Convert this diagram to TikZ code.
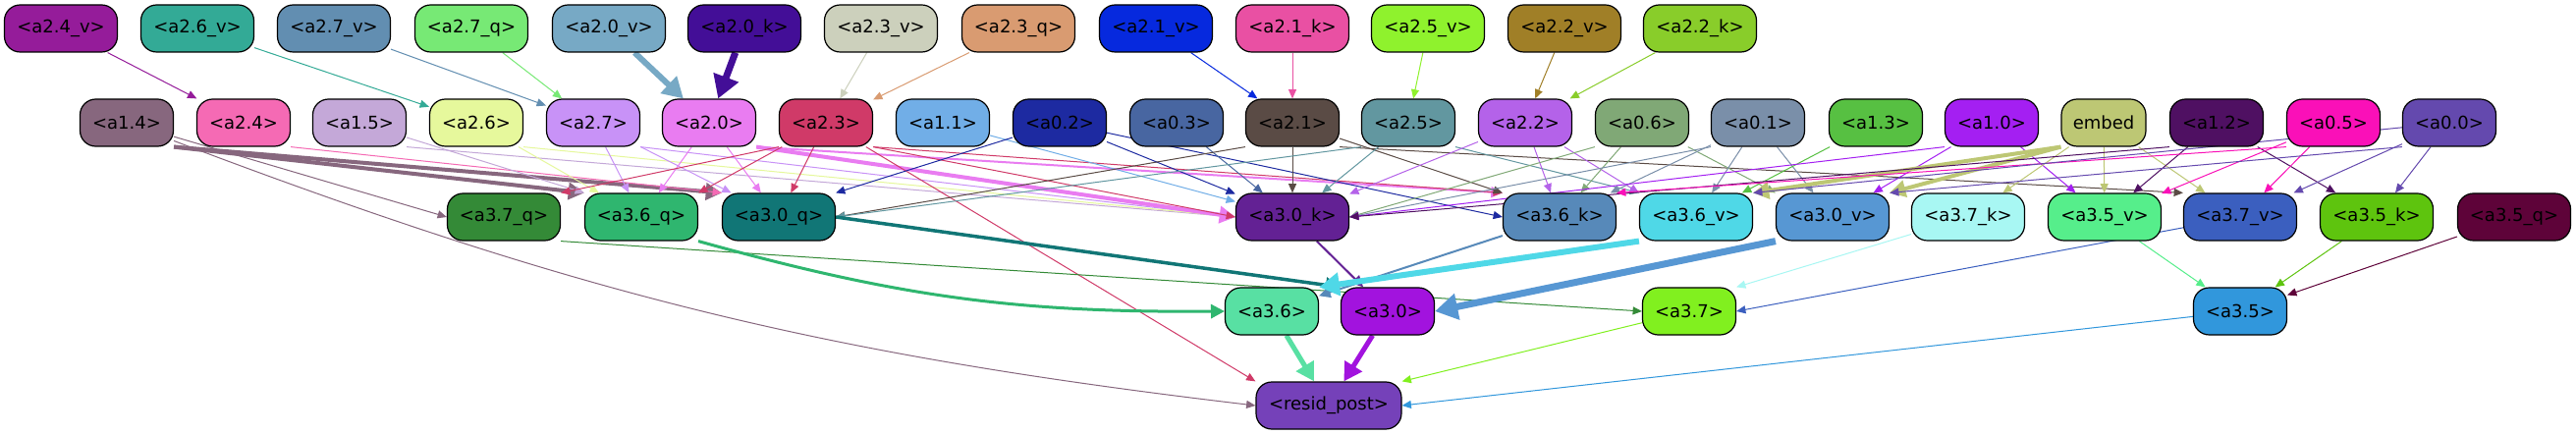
\documentclass[tikz,border=0pt]{standalone}
\usepackage{fontspec}
\setmainfont{DejaVu Sans}
\usetikzlibrary{arrows.meta,backgrounds}

\definecolor{c24v}{HTML}{951C9A}
\definecolor{c26v}{HTML}{33AA96}
\definecolor{c27v}{HTML}{628EB1}
\definecolor{c27q}{HTML}{77E975}
\definecolor{c20v}{HTML}{77A9C5}
\definecolor{c20k}{HTML}{430E97}
\definecolor{c23v}{HTML}{CCD0BC}
\definecolor{c23q}{HTML}{D99B71}
\definecolor{c21v}{HTML}{0629DE}
\definecolor{c21k}{HTML}{E950A3}
\definecolor{c25v}{HTML}{8FF22D}
\definecolor{c22v}{HTML}{A07F27}
\definecolor{c22k}{HTML}{89CD2A}
\definecolor{c14}{HTML}{87677E}
\definecolor{c24}{HTML}{F56AB4}
\definecolor{c15}{HTML}{C4A8D8}
\definecolor{c26}{HTML}{E6F89C}
\definecolor{c27}{HTML}{C892F7}
\definecolor{c20}{HTML}{E97CF1}
\definecolor{c23}{HTML}{D03A68}
\definecolor{c11}{HTML}{71AEE7}
\definecolor{c02}{HTML}{1D2AA1}
\definecolor{c03}{HTML}{4866A1}
\definecolor{c21}{HTML}{5A4B45}
\definecolor{c25}{HTML}{6297A0}
\definecolor{c22}{HTML}{B462E9}
\definecolor{c06}{HTML}{80A876}
\definecolor{c01}{HTML}{7A8FA9}
\definecolor{c13}{HTML}{57C042}
\definecolor{c10}{HTML}{A41FF2}
\definecolor{cembed}{HTML}{BDC774}
\definecolor{c12}{HTML}{4F1062}
\definecolor{c05}{HTML}{FA10B8}
\definecolor{c00}{HTML}{6449AE}
\definecolor{c37q}{HTML}{348A37}
\definecolor{c36q}{HTML}{2FB66F}
\definecolor{c30q}{HTML}{117676}
\definecolor{c30k}{HTML}{632194}
\definecolor{c36k}{HTML}{5789B9}
\definecolor{c36v}{HTML}{4FD8E7}
\definecolor{c30v}{HTML}{5797D3}
\definecolor{c37k}{HTML}{A8F7F3}
\definecolor{c35v}{HTML}{56EE8B}
\definecolor{c37v}{HTML}{3B5FBF}
\definecolor{c35k}{HTML}{5EC40E}
\definecolor{c35q}{HTML}{5E0339}
\definecolor{c36}{HTML}{58E0A3}
\definecolor{c30}{HTML}{A213DE}
\definecolor{c37}{HTML}{81F01F}
\definecolor{c35}{HTML}{3197DC}
\definecolor{cresid}{HTML}{7541B9}

\begin{document}
\begin{tikzpicture}[x=0.5pt,y=-0.5pt,
  box/.style={draw=black, line width=0.6pt, rounded corners=8pt, minimum width=47.5pt,
    minimum height=24pt, inner sep=0pt, font=\fontsize{9}{11}\selectfont},
  wbox/.style={box, minimum width=57.5pt},
  link/.style={line width=0.5pt, -{Triangle[length=3.5pt 2.3,width=2.5pt 3]}}]
  \useasboundingbox (0,0) rectangle (2623,443);

  \node[wbox, fill=c24v] (a24v) at (62,29) {<a2.4\_v>};
  \node[wbox, fill=c26v] (a26v) at (201,29) {<a2.6\_v>};
  \node[wbox, fill=c27v] (a27v) at (340,29) {<a2.7\_v>};
  \node[wbox, fill=c27q] (a27q) at (480,29) {<a2.7\_q>};
  \node[wbox, fill=c20v] (a20v) at (620,29) {<a2.0\_v>};
  \node[wbox, fill=c20k] (a20k) at (758,29) {<a2.0\_k>};
  \node[wbox, fill=c23v] (a23v) at (897,29) {<a2.3\_v>};
  \node[wbox, fill=c23q] (a23q) at (1037,29) {<a2.3\_q>};
  \node[wbox, fill=c21v] (a21v) at (1177,29) {<a2.1\_v>};
  \node[wbox, fill=c21k] (a21k) at (1316,29) {<a2.1\_k>};
  \node[wbox, fill=c25v] (a25v) at (1454,29) {<a2.5\_v>};
  \node[wbox, fill=c22v] (a22v) at (1593,29) {<a2.2\_v>};
  \node[wbox, fill=c22k] (a22k) at (1731,29) {<a2.2\_k>};

  \node[box, fill=c14] (a14) at (129,125) {<a1.4>};
  \node[box, fill=c24] (a24) at (248,125) {<a2.4>};
  \node[box, fill=c15] (a15) at (366,125) {<a1.5>};
  \node[box, fill=c26] (a26) at (485,125) {<a2.6>};
  \node[box, fill=c27] (a27) at (604,125) {<a2.7>};
  \node[box, fill=c20] (a20) at (722,125) {<a2.0>};
  \node[box, fill=c23] (a23) at (841,125) {<a2.3>};
  \node[box, fill=c11] (a11) at (960,125) {<a1.1>};
  \node[box, fill=c02] (a02) at (1079,125) {<a0.2>};
  \node[box, fill=c03] (a03) at (1198,125) {<a0.3>};
  \node[box, fill=c21] (a21) at (1316,125) {<a2.1>};
  \node[box, fill=c25] (a25) at (1434,125) {<a2.5>};
  \node[box, fill=c22] (a22) at (1553,125) {<a2.2>};
  \node[box, fill=c06] (a06) at (1672,125) {<a0.6>};
  \node[box, fill=c01] (a01) at (1790,125) {<a0.1>};
  \node[box, fill=c13] (a13) at (1910,125) {<a1.3>};
  \node[box, fill=c10] (a10) at (2028,125) {<a1.0>};
  \node[box, fill=cembed, minimum width=43pt] (embed) at (2142,125) {embed};
  \node[box, fill=c12] (a12) at (2257,125) {<a1.2>};
  \node[box, fill=c05] (a05) at (2376,125) {<a0.5>};
  \node[box, fill=c00] (a00) at (2494,125) {<a0.0>};

  \node[wbox, fill=c37q] (a37q) at (513,221) {<a3.7\_q>};
  \node[wbox, fill=c36q] (a36q) at (653,221) {<a3.6\_q>};
  \node[wbox, fill=c30q] (a30q) at (793,221) {<a3.0\_q>};
  \node[wbox, fill=c30k] (a30k) at (1316,221) {<a3.0\_k>};
  \node[wbox, fill=c36k] (a36k) at (1588,221) {<a3.6\_k>};
  \node[wbox, fill=c36v] (a36v) at (1727,221) {<a3.6\_v>};
  \node[wbox, fill=c30v] (a30v) at (1866,221) {<a3.0\_v>};
  \node[wbox, fill=c37k] (a37k) at (2004,221) {<a3.7\_k>};
  \node[wbox, fill=c35v] (a35v) at (2143,221) {<a3.5\_v>};
  \node[wbox, fill=c37v] (a37v) at (2281,221) {<a3.7\_v>};
  \node[wbox, fill=c35k] (a35k) at (2420,221) {<a3.5\_k>};
  \node[wbox, fill=c35q] (a35q) at (2560,221) {<a3.5\_q>};

  \node[box, fill=c36] (a36) at (1295,317) {<a3.6>};
  \node[box, fill=c30] (a30) at (1413,317) {<a3.0>};
  \node[box, fill=c37] (a37) at (1720,317) {<a3.7>};
  \node[box, fill=c35] (a35) at (2281,317) {<a3.5>};

  \node[box, fill=cresid, minimum width=74pt] (resid) at (1353,413) {<resid\_post>};

  \begin{scope}[on background layer]
  \fill[white] (0,0) rectangle (2623,443);

  \draw[link, c24v] (a24v) -- (a24);
  \draw[link, c26v] (a26v) -- (a26);
  \draw[link, c27v] (a27v) -- (a27);
  \draw[link, c27q] (a27q) -- (a27);
  \draw[link, c20v, line width=3pt] (a20v) -- (a20);
  \draw[link, c20k, line width=3.5pt] (a20k) -- (a20);
  \draw[link, c23v] (a23v) -- (a23);
  \draw[link, c23q] (a23q) -- (a23);
  \draw[link, c21v] (a21v) -- (a21);
  \draw[link, c21k] (a21k) -- (a21);
  \draw[link, c25v] (a25v) -- (a25);
  \draw[link, c22v] (a22v) -- (a22);
  \draw[link, c22k] (a22k) -- (a22);

  \draw[link, c14] (a14) -- (a37q.west);
  \draw[link, c14, line width=2pt] (a14.south east) -- (a36q.north west);
  \draw[link, c14, line width=2pt] (a14.south east) -- (a30q.north west);
  \draw[link, c14] (a14) to[bend right=7] (resid.west);
  \draw[link, c24] (a24.south east) -- (a30q.north west);
  \draw[link, c15] (a15) -- (a36q.north west);
  \draw[link, c15] (a15.south east) -- (a30k.west);
  \draw[link, c26] (a26) -- (a36q);
  \draw[link, c26] (a26.south east) -- (a30k.west);
  \draw[link, c27] (a27) -- (a36q);
  \draw[link, c27] (a27) -- (a30q);
  \draw[link, c27] (a27.south east) -- (a30k.west);
  \draw[link, c20] (a20) -- (a36q);
  \draw[link, c20] (a20) -- (a30q);
  \draw[link, c20, line width=2pt] (a20.south east) -- (a30k.west);
  \draw[link, c20, line width=1pt] (a20.south east) -- (a36k.north west);
  \draw[link, c23] (a23.south west) -- (a37q.north east);
  \draw[link, c23] (a23) -- (a36q.north east);
  \draw[link, c23] (a23) -- (a30q);
  \draw[link, c23] (a23.south east) -- (a30k.west);
  \draw[link, c23] (a23.south east) -- (a36k.north west);
  \draw[link, c23] (a23) -- (resid.north west);
  \draw[link, c11] (a11) -- (a30k);
  \draw[link, c02] (a02) -- (a30q.north east);
  \draw[link, c02] (a02) -- (a30k);
  \draw[link, c02] (a02) -- (a36k.west);
  \draw[link, c03] (a03) -- (a30k);
  \draw[link, c21] (a21.south west) -- (a30q.east);
  \draw[link, c21] (a21) -- (a30k);
  \draw[link, c21] (a21) -- (a36k.north west);
  \draw[link, c21] (a21.south east) -- (a37v.north west);
  \draw[link, c25] (a25.south west) -- (a30q.east);
  \draw[link, c25] (a25) -- (a30k);
  \draw[link, c25] (a25.south east) -- (a36v.north west);
  \draw[link, c22] (a22) -- (a30k);
  \draw[link, c22] (a22) -- (a36k);
  \draw[link, c22] (a22) -- (a36v.north west);
  \draw[link, c06] (a06.south west) -- (a30k.east);
  \draw[link, c06] (a06) -- (a36k);
  \draw[link, c06] (a06) -- (a30v.north west);
  \draw[link, c01] (a01.south west) -- (a30k.east);
  \draw[link, c01] (a01) -- (a36k);
  \draw[link, c01] (a01) -- (a36v);
  \draw[link, c01] (a01) -- (a30v);
  \draw[link, c13] (a13) -- (a36v);
  \draw[link, c10] (a10.south west) -- (a30k.east);
  \draw[link, c10] (a10) -- (a30v);
  \draw[link, c10] (a10) -- (a35v);
  \draw[link, cembed, line width=2pt] (embed.south west) -- (a36v.north east);
  \draw[link, cembed, line width=2pt] (embed.south west) -- (a30v.north east);
  \draw[link, cembed] (embed) -- (a37k);
  \draw[link, cembed] (embed) -- (a35v);
  \draw[link, cembed] (embed) -- (a37v);
  \draw[link, c12] (a12.south west) -- (a30k.east);
  \draw[link, c12] (a12) -- (a35v);
  \draw[link, c12] (a12) -- (a35k);
  \draw[link, c05] (a05.south west) -- (a36k.north east);
  \draw[link, c05] (a05) -- (a35v);
  \draw[link, c05] (a05) -- (a37v);
  \draw[link, c00] (a00) -- (a36v.north east);
  \draw[link, c00] (a00.south west) -- (a30v.north east);
  \draw[link, c00] (a00) -- (a37v);
  \draw[link, c00] (a00) -- (a35k);

  \draw[link, c37q] (a37q.south east) -- (a37.west);
  \draw[link, c36q, line width=1.5pt] (a36q.south east) to[bend right=8] (a36.west);
  \draw[link, c30q, line width=1.75pt] (a30q.east) -- (a30.north west);
  \draw[link, c30k, line width=1pt] (a30k) -- (a30);
  \draw[link, c36k, line width=1pt] (a36k) -- (a36);
  \draw[link, c36v, line width=3pt] (a36v.south west) -- (a36.north east);
  \draw[link, c30v, line width=3.5pt] (a30v.south west) -- (a30.east);
  \draw[link, c37k] (a37k) -- (a37.north east);
  \draw[link, c37v] (a37v) -- (a37.east);
  \draw[link, c35v] (a35v) -- (a35);
  \draw[link, c35k] (a35k) -- (a35);
  \draw[link, c35q] (a35q) -- (a35);

  \draw[link, c36, line width=2.5pt] (a36) -- (resid);
  \draw[link, c30, line width=2.5pt] (a30) -- (resid);
  \draw[link, c37] (a37) -- (resid.north east);
  \draw[link, c35] (a35) -- (resid.east);
  \end{scope}
\end{tikzpicture}
\end{document}
